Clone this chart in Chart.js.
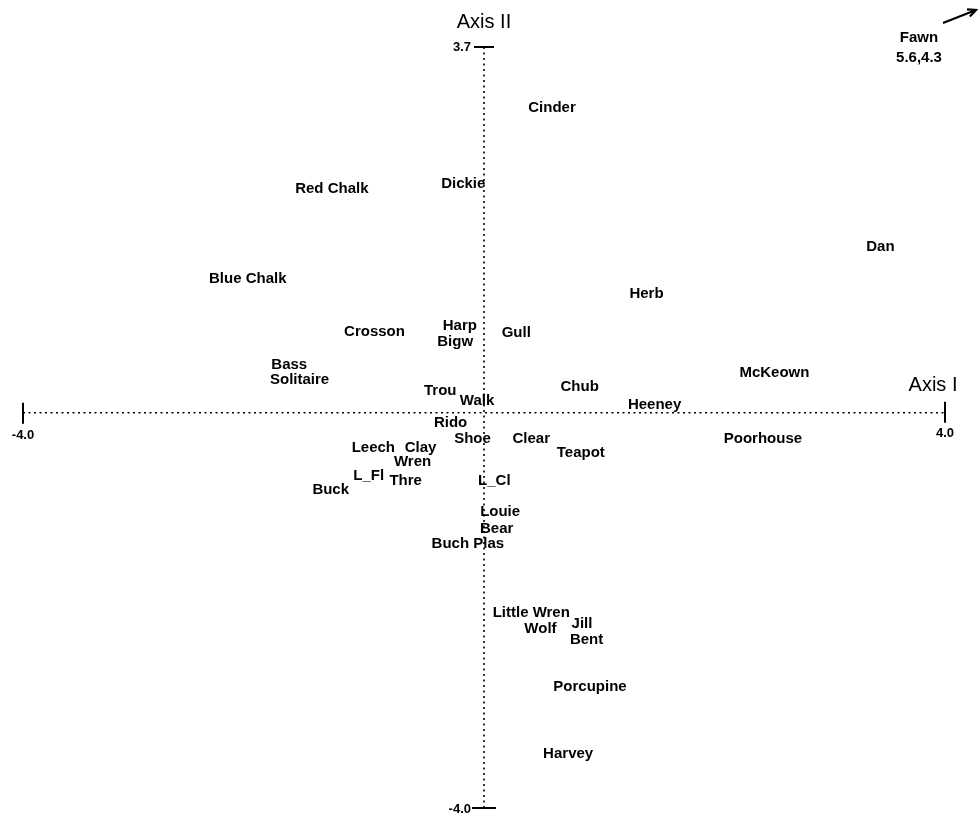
<!DOCTYPE html>
<html>
<head>
<meta charset="utf-8">
<script src="https://cdn.jsdelivr.net/npm/chart.js@4/dist/chart.umd.min.js"></script>
<style>
  html, body { margin: 0; padding: 0; background: #fff; }
  #wrap { width: 978px; height: 820px; }
</style>
</head>
<body>
<div id="wrap"><canvas id="ordination" width="978" height="820"></canvas></div>
<script>
// site scores on the first two ordination axes
const sites = ['Cinder', 'Red Chalk', 'Dickie', 'Dan', 'Blue Chalk', 'Herb', 'Crosson', 'Harp', 'Gull', 'Bigw',
  'Bass', 'Solitaire', 'McKeown', 'Chub', 'Trou', 'Walk', 'Heeney', 'Rido', 'Shoe', 'Clear', 'Poorhouse',
  'Leech', 'Clay', 'Teapot', 'Wren', 'L_Fl', 'Thre', 'Buck', 'L_Cl', 'Louie', 'Bear', 'Buch Plas',
  'Little Wren', 'Jill', 'Wolf', 'Bent', 'Porcupine', 'Harvey'];
const axisI = [0.59, -1.32, -0.18, 3.44, -2.05, 1.41, -0.95, -0.21, 0.28, -0.25,
  -1.69, -1.60, 2.52, 0.83, -0.38, -0.06, 1.48, -0.29, -0.10, 0.41, 2.42,
  -0.96, -0.55, 0.84, -0.62, -1.00, -0.68, -1.33, 0.09, 0.14, 0.11, -0.14,
  0.41, 0.85, 0.49, 0.89, 0.92, 0.73];
const axisII = [3.08, 2.26, 2.32, 1.68, 1.35, 1.20, 0.82, 0.88, 0.81, 0.72,
  0.48, 0.33, 0.40, 0.26, 0.22, 0.12, 0.08, -0.10, -0.26, -0.26, -0.26,
  -0.36, -0.36, -0.41, -0.50, -0.64, -0.69, -0.78, -0.69, -1.00, -1.18, -1.33,
  -2.03, -2.14, -2.19, -2.30, -2.77, -3.45];

// sites that fall outside the plotted range
const farSites = ['Fawn'];
const farI = [5.6];
const farII = [4.3];

const xRange = [-4.0, 4.0];
const yRange = [-4.0, 3.7];

const labelFont = 'bold 15px "Liberation Sans", Arial, sans-serif';
const tickFont = 'bold 13px "Liberation Sans", Arial, sans-serif';
const titleFont = '20px "Liberation Sans", Arial, sans-serif';

const points = sites.map((s, i) => ({ x: axisI[i], y: axisII[i] }));

// draws the dotted axes, end ticks, site names and the off-scale arrow
const biplot = {
  id: 'biplot',
  beforeDatasetsDraw(chart) {
    const { ctx, scales: { x, y } } = chart;
    const x0 = x.getPixelForValue(0), y0 = y.getPixelForValue(0);
    const xl = x.getPixelForValue(xRange[0]), xr = x.getPixelForValue(xRange[1]);
    const yb = y.getPixelForValue(yRange[0]), yt = y.getPixelForValue(yRange[1]);
    ctx.save();
    ctx.strokeStyle = '#000';
    ctx.lineWidth = 1.6;
    ctx.setLineDash([2, 3.5]);
    ctx.beginPath();
    ctx.moveTo(xl, y0); ctx.lineTo(xr, y0);
    ctx.moveTo(x0, yt); ctx.lineTo(x0, yb);
    ctx.stroke();
    ctx.setLineDash([]);
    ctx.lineWidth = 2;
    ctx.beginPath();
    ctx.moveTo(xl, y0 - 10); ctx.lineTo(xl, y0 + 11);
    ctx.moveTo(xr, y0 - 11); ctx.lineTo(xr, y0 + 10);
    ctx.moveTo(x0 - 10, yt); ctx.lineTo(x0 + 10, yt);
    ctx.moveTo(x0 - 12, yb); ctx.lineTo(x0 + 12, yb);
    ctx.stroke();

    ctx.fillStyle = '#000';
    ctx.font = tickFont;
    ctx.textBaseline = 'middle';
    ctx.textAlign = 'center';
    ctx.fillText(xRange[0].toFixed(1), xl, y0 + 23);
    ctx.fillText(xRange[1].toFixed(1), xr, y0 + 21);
    ctx.textAlign = 'right';
    ctx.fillText(yRange[1].toFixed(1), x0 - 13, yt);
    ctx.fillText(yRange[0].toFixed(1), x0 - 13, yb + 1);

    ctx.font = titleFont;
    ctx.textAlign = 'center';
    ctx.fillText('Axis II', x0, yt - 25);
    ctx.fillText('Axis I', xr - 12, y0 - 27);
    ctx.restore();
  },
  afterDatasetsDraw(chart) {
    const { ctx, scales: { x, y } } = chart;
    const meta = chart.getDatasetMeta(0);
    ctx.save();
    ctx.fillStyle = '#000';
    ctx.strokeStyle = '#000';
    ctx.font = labelFont;
    ctx.textAlign = 'center';
    ctx.textBaseline = 'middle';
    meta.data.forEach((pt, i) => ctx.fillText(sites[i], pt.x, pt.y));

    farSites.forEach((name, i) => {
      const px = x.getPixelForValue(Math.min(farI[i], xRange[1])) - 26;
      const py = y.getPixelForValue(Math.min(farII[i], yRange[1])) - 9;
      ctx.fillText(name, px, py);
      ctx.fillText(farI[i].toFixed(1) + ',' + farII[i].toFixed(1), px, py + 20);
      // arrow pointing towards the off-scale position
      const ax = px + 24, ay = py - 15, bx = px + 57, by = py - 28;
      const ang = Math.atan2(by - ay, bx - ax);
      ctx.lineWidth = 2.2;
      ctx.beginPath();
      ctx.moveTo(ax, ay); ctx.lineTo(bx, by);
      ctx.moveTo(bx - 9 * Math.cos(ang - 0.45), by - 9 * Math.sin(ang - 0.45));
      ctx.lineTo(bx, by);
      ctx.lineTo(bx - 9 * Math.cos(ang + 0.45), by - 9 * Math.sin(ang + 0.45));
      ctx.stroke();
    });
    ctx.restore();
  }
};

new Chart(document.getElementById('ordination'), {
  type: 'scatter',
  data: {
    datasets: [{
      data: points,
      pointRadius: 0,
      pointHoverRadius: 0,
      showLine: false
    }]
  },
  options: {
    responsive: false,
    animation: false,
    events: [],
    layout: { padding: { left: 23, right: 33, top: 47, bottom: 12 } },
    scales: {
      x: { type: 'linear', min: xRange[0], max: xRange[1], display: false },
      y: { type: 'linear', min: yRange[0], max: yRange[1], display: false }
    },
    plugins: { legend: { display: false }, tooltip: { enabled: false } }
  },
  plugins: [biplot]
});
</script>
</body>
</html>
